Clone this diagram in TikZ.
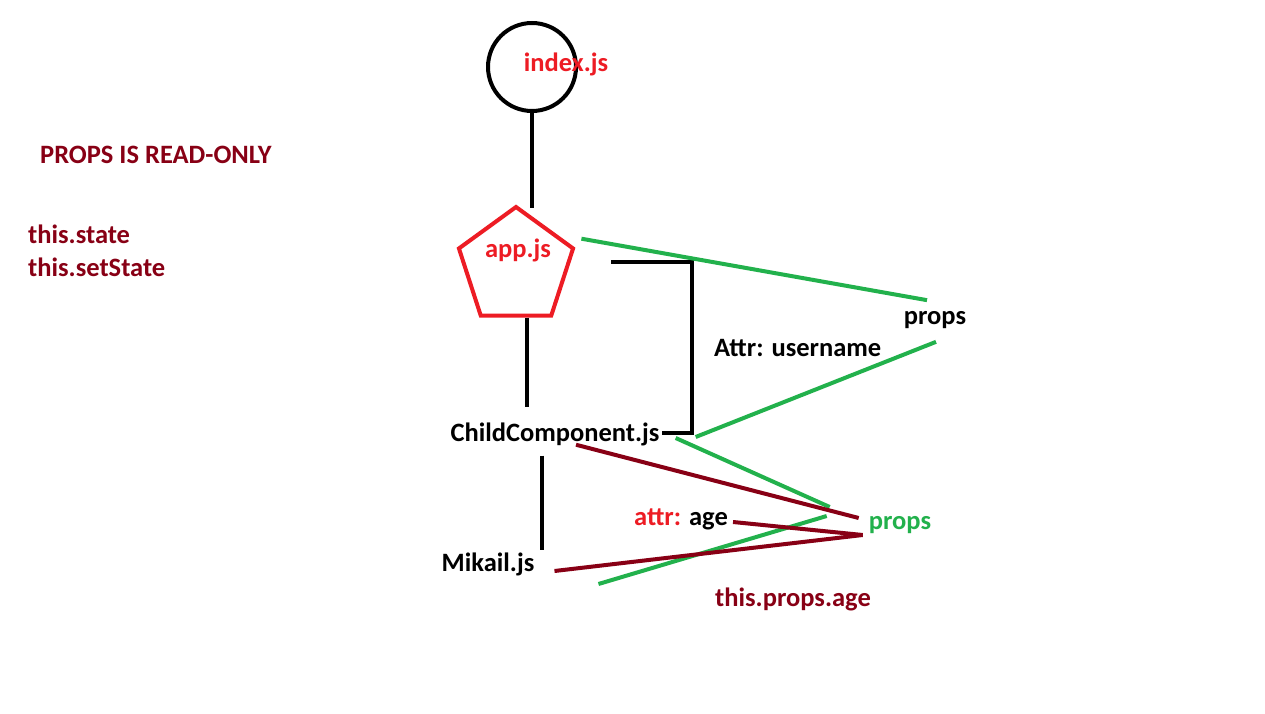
\documentclass[tikz,border=0pt]{standalone}
\usepackage{fontspec}
\setmainfont{Carlito}
\usetikzlibrary{shapes.geometric}
\definecolor{paintred}{RGB}{237,28,36}
\definecolor{paintgreen}{RGB}{34,177,76}
\definecolor{paintmaroon}{RGB}{136,0,21}

\begin{document}
\begin{tikzpicture}[x=1pt,y=-1pt,
  lbl/.style={font=\fontsize{26.5}{32}\selectfont\bfseries,inner sep=2pt},
  wire/.style={line width=4pt},
  greenwire/.style={wire,paintgreen},
  redwire/.style={wire,paintmaroon}]
  \useasboundingbox (0,0) rectangle (1265,714);
  \fill[white] (0,0) rectangle (1265,714);
  % notes on the left
  \node[lbl,paintmaroon,anchor=west] (readonly) at (38,155) {PROPS IS READ-ONLY};
  \node[lbl,paintmaroon,anchor=west] (state) at (26,234) {this.state};
  \node[lbl,paintmaroon,anchor=west] (setstate) at (26,267) {this.setState};
  % component tree
  \node[circle,draw,wire,minimum size=88pt] (index) at (532,67) {};
  \node[lbl,paintred] (indexlbl) at (566,64) {index.js};
  \node[regular polygon,regular polygon sides=5,draw=paintred,wire,minimum size=120pt,inner sep=0pt] (app) at (516,267) {};
  \node[lbl,paintred] (applbl) at (518,250) {app.js};
  \node[lbl] (child) at (555,434) {ChildComponent.js};
  \node[lbl] (mikail) at (488,564) {Mikail.js};
  \draw[wire] (index.south) -- ([yshift=-3pt]index.south |- app.corner 1);
  \draw[wire] ([xshift=11pt]app.south) -- ([shift={(11,-13)}]app.south |- child.north);
  \draw[wire] ([shift={(6,8)}]child.south -| mikail.north east) -- ([shift={(6,0)}]mikail.north east);
  % attribute passed down
  \coordinate (attrtop) at (611,262);
  \node[lbl,anchor=west] (username) at (712,348) {Attr: username};
  \node[lbl] (propsa) at (935,320) {props};
  \draw[wire] (attrtop) -| ([shift={(30,-1)}]child.east) -- ([yshift=1pt]child.east);
  \draw[greenwire] ([shift={(6,-9)}]app.corner 5) -- ([shift={(-8,-9)}]propsa.north);
  \draw[greenwire] ([shift={(1,11)}]propsa.south) -- ([shift={(34,3)}]child.east);
  % second level props
  \node[lbl,paintgreen] (propsg) at (900,525) {props};
  \node[lbl] (attrage) at (681,519) {\textcolor{paintred}{attr:} age};
  \node[lbl,paintmaroon] (thisage) at (793,599) {this.props.age};
  \coordinate (meet) at ([shift={(-4,10)}]propsg.west);
  \draw[greenwire] ([shift={(14,4)}]child.east) -- ([shift={(-37,-18)}]propsg.west);
  \draw[greenwire] ([shift={(-40,-9)}]propsg.west) -- ([shift={(62,20)}]mikail.east);
  \draw[redwire] ([shift={(21,-3)}]child.south) -- ([shift={(-8,-7)}]propsg.west);
  \draw[redwire] ([shift={(3,3)}]attrage.east) -- (meet);
  \draw[redwire] ([shift={(18,7)}]mikail.east) -- (meet);
\end{tikzpicture}
\end{document}
